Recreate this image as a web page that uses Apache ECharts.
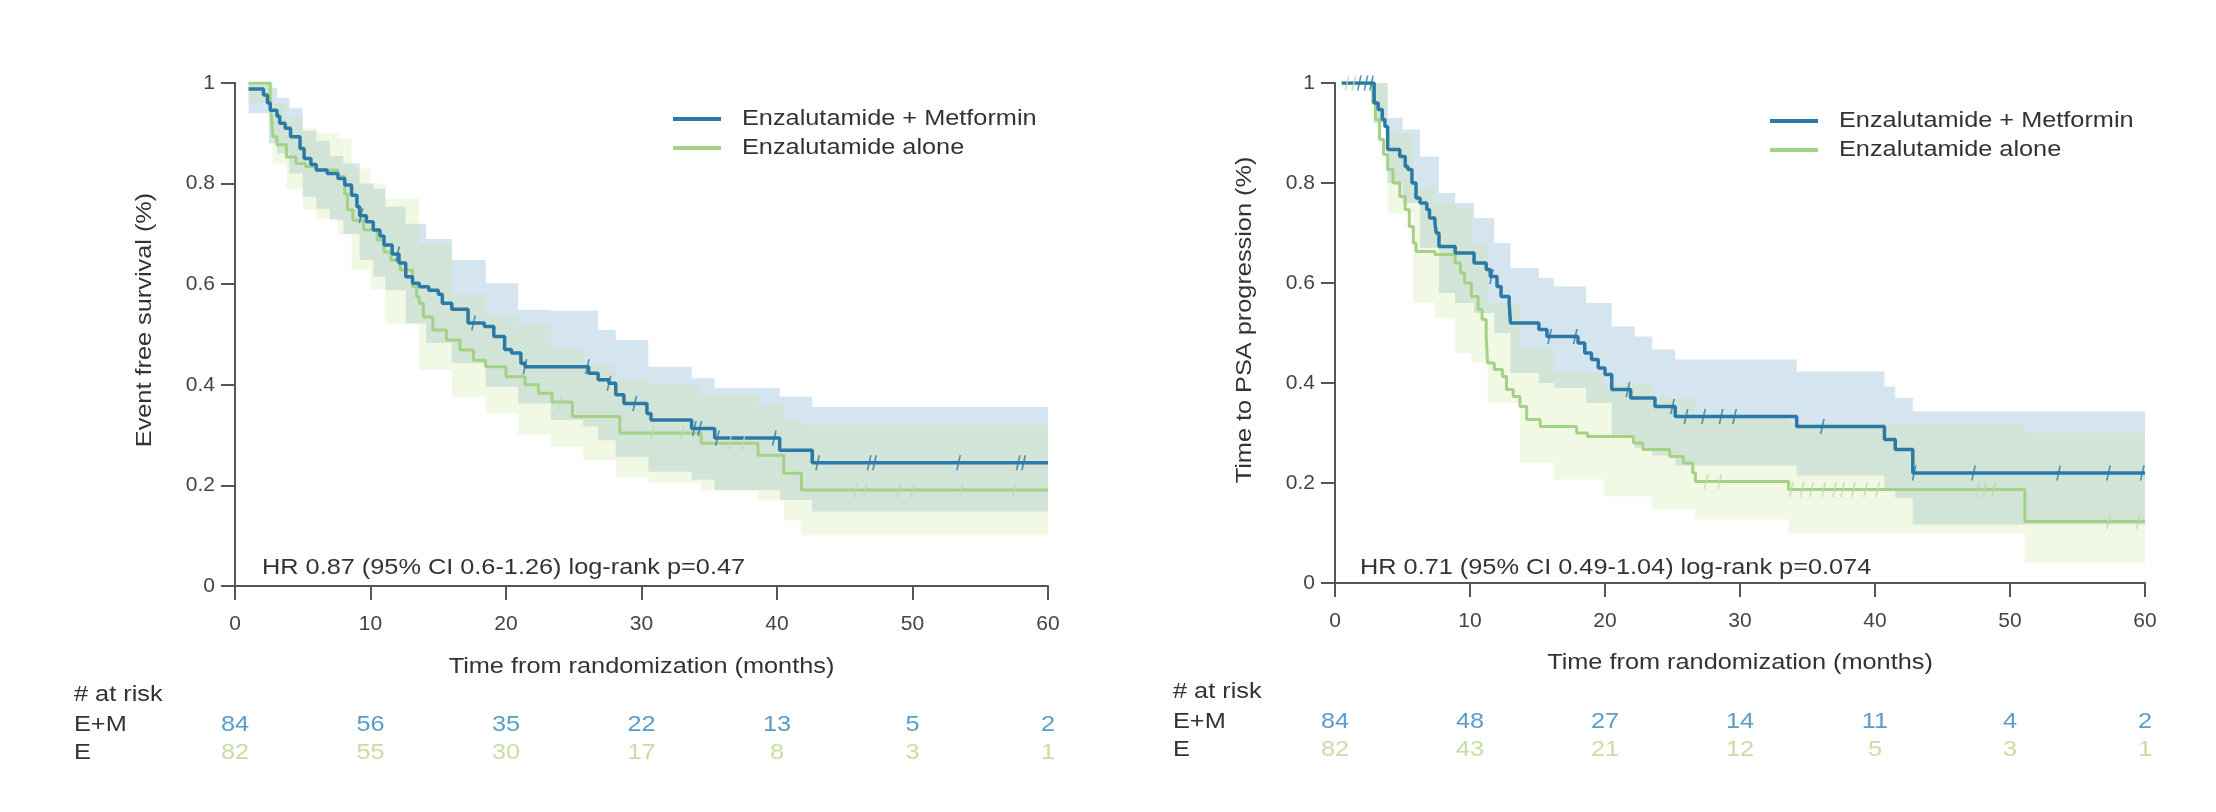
<!DOCTYPE html>
<html>
<head>
<meta charset="utf-8">
<script src="https://cdn.jsdelivr.net/npm/echarts@6/dist/echarts.min.js"></script>
<style>
  html, body { margin: 0; padding: 0; background: #ffffff; }
  #chart { width: 2216px; height: 812px; }
</style>
</head>
<body>
<div id="chart"></div>
<script>
// ---- axis ticks -------------------------------------------------------
const monthTicks = [0, 10, 20, 30, 40, 50, 60];

// ---- Event free survival: Kaplan-Meier steps [month, survival] ----------
const efsComboSteps = [
  [1.0, 0.988], [2.1, 0.976], [2.4, 0.96], [2.6, 0.946], [3.1, 0.934], [3.3, 0.92],
  [3.7, 0.91], [4.1, 0.893], [4.8, 0.87], [5.1, 0.85], [5.6, 0.838], [6.0, 0.827],
  [6.8, 0.82], [7.6, 0.81], [8.1, 0.797], [8.6, 0.777], [9.0, 0.754], [9.2, 0.736],
  [9.7, 0.724], [10.2, 0.708], [10.7, 0.696], [11.0, 0.678], [11.6, 0.66], [12.1, 0.642],
  [12.6, 0.615], [13.1, 0.602], [13.6, 0.595], [14.3, 0.588], [15.0, 0.58], [15.3, 0.562],
  [16.0, 0.55], [17.2, 0.523], [18.4, 0.516], [19.1, 0.496], [19.9, 0.47], [20.4, 0.463],
  [21.1, 0.443], [21.4, 0.436], [26.1, 0.423], [26.8, 0.41], [27.6, 0.403], [28.1, 0.38],
  [28.7, 0.363], [30.4, 0.343], [30.7, 0.33], [33.7, 0.313], [35.4, 0.294], [40.2, 0.27],
  [42.6, 0.245], [60, 0.245]
];
const efsAloneSteps = [
  [1.0, 1.0], [2.6, 0.963], [2.7, 0.927], [2.8, 0.893], [3.1, 0.877], [3.8, 0.853],
  [4.5, 0.84], [5.2, 0.834], [6.0, 0.827], [7.6, 0.814], [8.1, 0.78], [8.3, 0.748],
  [8.7, 0.727], [9.5, 0.708], [10.5, 0.688], [11.0, 0.664], [11.5, 0.648], [12.2, 0.628],
  [13.1, 0.595], [13.4, 0.575], [13.6, 0.562], [13.9, 0.535], [14.6, 0.509], [15.6, 0.489],
  [16.6, 0.469], [17.6, 0.449], [18.5, 0.436], [20.0, 0.416], [21.4, 0.40], [22.4, 0.383],
  [23.4, 0.366], [24.9, 0.337], [28.4, 0.304], [34.4, 0.284], [38.6, 0.26], [40.5, 0.224],
  [41.8, 0.191], [60, 0.191]
];
// 95% confidence bands [month, lower, upper]
const efsComboBand = [
  [1.0, 0.94, 1.0], [2.5, 0.88, 0.99], [3.1, 0.86, 0.97], [4.0, 0.82, 0.95], [5.0, 0.774, 0.905],
  [6.0, 0.75, 0.885], [7.0, 0.728, 0.855], [8.0, 0.70, 0.84], [9.2, 0.648, 0.80], [10.2, 0.615, 0.79],
  [11.1, 0.588, 0.754], [12.6, 0.522, 0.72], [14.1, 0.483, 0.69], [16.0, 0.443, 0.648],
  [18.5, 0.396, 0.602], [20.9, 0.363, 0.549], [23.3, 0.33, 0.547], [25.7, 0.317, 0.547],
  [26.8, 0.29, 0.509], [28.1, 0.257, 0.489], [30.5, 0.227, 0.436], [33.7, 0.211, 0.413],
  [35.4, 0.191, 0.393], [40.2, 0.171, 0.376], [42.6, 0.148, 0.356], [60, 0.148, 0.356]
];
const efsAloneBand = [
  [1.0, 0.96, 1.0], [2.8, 0.84, 0.96], [3.8, 0.79, 0.93], [5.0, 0.748, 0.91], [6.0, 0.73, 0.90],
  [7.6, 0.70, 0.89], [8.6, 0.628, 0.83], [10.0, 0.59, 0.80], [11.1, 0.522, 0.77], [13.6, 0.43, 0.68],
  [16.0, 0.376, 0.58], [18.5, 0.343, 0.54], [20.9, 0.30, 0.52], [23.3, 0.277, 0.47], [25.7, 0.25, 0.44],
  [28.1, 0.217, 0.41], [30.5, 0.205, 0.40], [34.4, 0.19, 0.38], [38.6, 0.17, 0.36], [40.5, 0.13, 0.33],
  [41.8, 0.101, 0.32], [60, 0.101, 0.32]
];
// censored observations (months)
const efsComboCensored = [9.3, 12.0, 17.6, 21.4, 26.0, 27.6, 29.5, 33.9, 34.3, 35.6, 39.8, 43.0, 46.8, 47.2, 53.4, 57.8, 58.2];
const efsAloneCensored = [24.0, 30.8, 33.0, 36.5, 37.5, 45.8, 46.5, 49.0, 50.0, 53.6, 57.5];
// numbers at risk at each tick
const efsRiskCombo = [84, 56, 35, 22, 13, 5, 2];
const efsRiskAlone = [82, 55, 30, 17, 8, 3, 1];

// ---- Time to PSA progression -------------------------------------------
const psaComboSteps = [
  [0.5, 1.0], [2.9, 0.96], [3.2, 0.947], [3.5, 0.927], [3.7, 0.913], [3.9, 0.867],
  [4.8, 0.853], [5.2, 0.833], [5.4, 0.827], [5.7, 0.80], [6.0, 0.77], [6.3, 0.76],
  [6.8, 0.747], [7.0, 0.73], [7.4, 0.72], [7.5, 0.70], [7.7, 0.673], [8.9, 0.66],
  [10.3, 0.64], [11.2, 0.627], [11.5, 0.613], [12.0, 0.593], [12.3, 0.573], [12.9, 0.56],
  [13.0, 0.52], [15.1, 0.507], [15.7, 0.493], [18.0, 0.48], [18.5, 0.46], [19.0, 0.447],
  [19.5, 0.43], [20.0, 0.417], [20.5, 0.387], [21.9, 0.37], [23.7, 0.353], [25.2, 0.333],
  [34.2, 0.313], [40.7, 0.287], [41.5, 0.267], [42.8, 0.22], [60, 0.22]
];
const psaAloneSteps = [
  [0.5, 1.0], [2.8, 0.96], [3.0, 0.927], [3.3, 0.887], [3.6, 0.857], [3.9, 0.827],
  [4.3, 0.80], [4.8, 0.773], [5.2, 0.747], [5.5, 0.713], [5.8, 0.68], [6.0, 0.663],
  [7.4, 0.657], [8.9, 0.64], [9.3, 0.62], [9.6, 0.60], [10.1, 0.573], [10.6, 0.547],
  [10.9, 0.527], [11.2, 0.493], [11.3, 0.44], [11.8, 0.427], [12.4, 0.413], [12.7, 0.387],
  [13.2, 0.373], [13.7, 0.353], [14.2, 0.327], [15.2, 0.313], [17.9, 0.30], [18.7, 0.293],
  [22.1, 0.28], [22.8, 0.267], [24.8, 0.253], [25.8, 0.24], [26.5, 0.22], [26.7, 0.203],
  [33.6, 0.187], [51.1, 0.123], [60, 0.123]
];
const psaComboBand = [
  [0.5, 1.0, 1.0], [2.9, 0.92, 1.0], [3.9, 0.80, 0.93], [5.0, 0.76, 0.907], [6.3, 0.67, 0.853],
  [7.7, 0.58, 0.78], [8.9, 0.56, 0.76], [10.3, 0.54, 0.73], [11.8, 0.50, 0.68], [13.0, 0.42, 0.63],
  [15.1, 0.40, 0.61], [16.2, 0.39, 0.593], [18.6, 0.36, 0.56], [20.5, 0.29, 0.513], [22.2, 0.27, 0.493],
  [23.5, 0.255, 0.467], [25.2, 0.235, 0.447], [34.2, 0.215, 0.423], [40.7, 0.19, 0.393],
  [41.5, 0.17, 0.37], [42.8, 0.117, 0.343], [60, 0.117, 0.343]
];
const psaAloneBand = [
  [0.5, 1.0, 1.0], [2.8, 0.92, 1.0], [3.9, 0.74, 0.90], [5.8, 0.56, 0.79], [7.4, 0.53, 0.76],
  [8.9, 0.46, 0.75], [10.1, 0.44, 0.68], [11.3, 0.36, 0.56], [13.7, 0.24, 0.47], [16.2, 0.207, 0.42],
  [19.9, 0.173, 0.40], [23.5, 0.147, 0.37], [26.7, 0.127, 0.33], [33.6, 0.10, 0.32],
  [51.1, 0.04, 0.30], [60, 0.04, 0.30]
];
const psaComboCensored = [1.8, 2.3, 2.7, 11.6, 15.9, 17.8, 21.7, 25.0, 26.0, 27.3, 28.6, 29.6, 36.1, 42.9, 47.3, 53.6, 57.3, 59.8];
const psaAloneCensored = [0.9, 1.4, 27.5, 28.5, 33.8, 34.6, 35.3, 36.2, 37.0, 37.6, 38.4, 39.3, 40.2, 47.6, 48.1, 48.8, 57.3, 59.5];
const psaRiskCombo = [84, 48, 27, 14, 11, 4, 2];
const psaRiskAlone = [82, 43, 21, 12, 5, 3, 1];

// ---- styling ------------------------------------------------------------
const BLUE = '#2b79a6';
const GREEN = '#a3d186';
const GREEN_TICK = '#bcdca6';
const BLUE_BAND = 'rgba(120,172,202,0.31)';
const GREEN_BAND = 'rgba(200,228,145,0.25)';
const BLUE_RISK = '#5a9dc9';
const GREEN_RISK = '#c6dea3';
const AXIS = '#555555';
const FONT = '"Liberation Sans", Arial, sans-serif';

function survAt(steps, t) {
  let s = steps[0][1];
  for (const [tt, v] of steps) { if (tt <= t) s = v; else break; }
  return s;
}

function stepSeries(name, steps, color, width, k) {
  return {
    type: 'line', name, xAxisIndex: k, yAxisIndex: k, step: 'end',
    data: steps, symbol: 'none', showSymbol: false,
    lineStyle: { color, width }, z: 5, silent: true
  };
}

function bandSeries(band, fill, k) {
  return {
    type: 'custom', xAxisIndex: k, yAxisIndex: k, data: band,
    encode: { x: 0, y: [1, 2] }, z: 1, silent: true,
    renderItem(params, api) {
      if (params.dataIndex !== 0) return null;
      const pts = [];
      for (let i = 0; i < band.length - 1; i++) {
        pts.push(api.coord([band[i][0], band[i][2]]));
        pts.push(api.coord([band[i + 1][0], band[i][2]]));
      }
      for (let i = band.length - 2; i >= 0; i--) {
        pts.push(api.coord([band[i + 1][0], band[i][1]]));
        pts.push(api.coord([band[i][0], band[i][1]]));
      }
      return { type: 'polygon', shape: { points: pts }, style: { fill } };
    }
  };
}

function censorSeries(times, steps, color, k) {
  return {
    type: 'scatter', xAxisIndex: k, yAxisIndex: k,
    data: times.map(t => [t, survAt(steps, t)]),
    symbol: 'path://M4,0L6,0L2,16L0,16Z', symbolSize: [5, 15],
    itemStyle: { color }, z: 6, silent: true
  };
}

function xAxisOpt(k) {
  return {
    type: 'value', gridIndex: k, min: 0, max: 60, interval: 10,
    axisLine: { show: true, onZero: false, lineStyle: { color: AXIS, width: 2 } },
    axisTick: { show: true, inside: false, length: 14, lineStyle: { color: AXIS, width: 2 } },
    axisLabel: { fontSize: 21, color: '#444', fontFamily: FONT, margin: 28 },
    splitLine: { show: false }
  };
}
function yAxisOpt(k) {
  return {
    type: 'value', gridIndex: k, min: 0, max: 1, interval: 0.2,
    axisLine: { show: true, onZero: false, lineStyle: { color: AXIS, width: 2 } },
    axisTick: { show: true, inside: false, length: 14, lineStyle: { color: AXIS, width: 2 } },
    axisLabel: { fontSize: 21, color: '#444', fontFamily: FONT, margin: 20 },
    splitLine: { show: false }
  };
}

function text(str, x, y, o = {}) {
  return {
    type: 'text', x, y, rotation: o.rotation || 0, scaleX: o.scaleX || 1.15, silent: true,
    style: {
      text: str, fill: o.color || '#333', font: `${o.size || 22}px ${FONT}`,
      textAlign: o.align || 'left', textVerticalAlign: 'middle',
      align: o.align || 'left', verticalAlign: 'middle'
    }
  };
}
function legendLine(x1, x2, y, color) {
  return { type: 'line', silent: true, shape: { x1, y1: y, x2, y2: y }, style: { stroke: color, lineWidth: 4 } };
}

const chart = echarts.init(document.getElementById('chart'), null, { renderer: 'canvas' });

chart.setOption({
  animation: false,
  backgroundColor: '#ffffff',
  grid: [
    { left: 235, top: 83, width: 813, height: 503 },
    { left: 1335, top: 83, width: 810, height: 500 }
  ],
  xAxis: [xAxisOpt(0), xAxisOpt(1)],
  yAxis: [yAxisOpt(0), yAxisOpt(1)],
  series: [
    bandSeries(efsComboBand, BLUE_BAND, 0),
    bandSeries(efsAloneBand, GREEN_BAND, 0),
    stepSeries('Enzalutamide alone', efsAloneSteps, GREEN, 3, 0),
    stepSeries('Enzalutamide + Metformin', efsComboSteps, BLUE, 3.5, 0),
    censorSeries(efsAloneCensored, efsAloneSteps, GREEN_TICK, 0),
    censorSeries(efsComboCensored, efsComboSteps, BLUE, 0),

    bandSeries(psaComboBand, BLUE_BAND, 1),
    bandSeries(psaAloneBand, GREEN_BAND, 1),
    stepSeries('Enzalutamide alone', psaAloneSteps, GREEN, 3, 1),
    stepSeries('Enzalutamide + Metformin', psaComboSteps, BLUE, 3.5, 1),
    censorSeries(psaAloneCensored, psaAloneSteps, GREEN_TICK, 1),
    censorSeries(psaComboCensored, psaComboSteps, BLUE, 1)
  ]
});

// Titles, legends, statistics and the numbers-at-risk table
const panels = [
  { k: 0, yTitle: 'Event free survival (%)', yTitleX: 145, stat: 'HR 0.87 (95% CI 0.6-1.26) log-rank p=0.47',
    statX: 262, statY: 568, xTitleY: 667, legX: 673, legY: 119, riskX: 74, riskY: 695,
    combo: efsRiskCombo, alone: efsRiskAlone },
  { k: 1, yTitle: 'Time to PSA progression (%)', yTitleX: 1245, stat: 'HR 0.71 (95% CI 0.49-1.04) log-rank p=0.074',
    statX: 1360, statY: 568, xTitleY: 663, legX: 1770, legY: 121, riskX: 1173, riskY: 692,
    combo: psaRiskCombo, alone: psaRiskAlone }
];

const graphics = [];
panels.forEach(p => {
  const x0 = chart.convertToPixel({ xAxisIndex: p.k }, 0);
  const x60 = chart.convertToPixel({ xAxisIndex: p.k }, 60);
  graphics.push(text(p.yTitle, p.yTitleX, 320, { rotation: Math.PI / 2, align: 'center' }));
  graphics.push(text('Time from randomization (months)', (x0 + x60) / 2, p.xTitleY, { align: 'center' }));
  graphics.push(text(p.stat, p.statX, p.statY));
  graphics.push(legendLine(p.legX, p.legX + 48, p.legY, BLUE));
  graphics.push(legendLine(p.legX, p.legX + 48, p.legY + 29, GREEN));
  graphics.push(text('Enzalutamide + Metformin', p.legX + 69, p.legY));
  graphics.push(text('Enzalutamide alone', p.legX + 69, p.legY + 29));
  graphics.push(text('# at risk', p.riskX, p.riskY));
  graphics.push(text('E+M', p.riskX, p.riskY + 30));
  graphics.push(text('E', p.riskX, p.riskY + 58));
  monthTicks.forEach((m, i) => {
    const px = chart.convertToPixel({ xAxisIndex: p.k }, m);
    graphics.push(text(String(p.combo[i]), px, p.riskY + 30, { align: 'center', color: BLUE_RISK }));
    graphics.push(text(String(p.alone[i]), px, p.riskY + 58, { align: 'center', color: GREEN_RISK }));
  });
});

chart.setOption({ graphic: graphics });
</script>
</body>
</html>
